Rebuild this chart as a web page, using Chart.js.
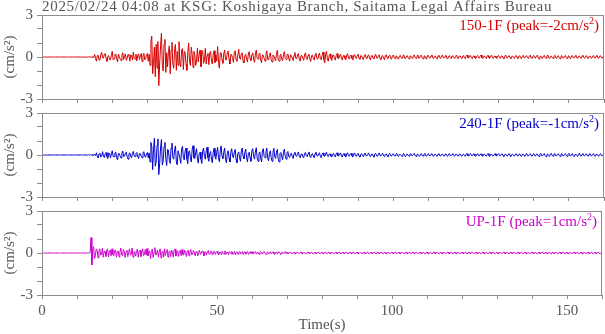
<!DOCTYPE html>
<html>
<head>
<meta charset="utf-8">
<script src="https://cdn.jsdelivr.net/npm/chart.js@4/dist/chart.umd.min.js"></script>
<style>
  html, body { margin: 0; padding: 0; background: #ffffff; }
  #wrap { position: relative; width: 605px; height: 334px; overflow: hidden; }
  #wrap canvas { position: absolute; left: 0; }
</style>
</head>
<body>
<div id="wrap">
  <canvas id="c1" width="605" height="113" style="top:0px"></canvas>
  <canvas id="c2" width="605" height="112" style="top:99px"></canvas>
  <canvas id="c3" width="605" height="137" style="top:197px"></canvas>
</div>
<script>
// ---------------- DATA ----------------
const TITLE = '2025/02/24 04:08 at KSG: Koshigaya Branch, Saitama Legal Affairs Bureau';
const SAMPLE_STEP = 0.25;         // seconds between readings
const X_MIN = 0, X_MAX = 160;
const X_TICK_LABELS = [0, 50, 100, 150];
const Y_TICK_LABELS = [-3, 0, 3];
const CHANNELS = ['150-1F', '240-1F', 'UP-1F'];
const PEAKS = [-2, -1, 1];

// 150-1F acceleration (cm/s^2), one reading every 0.25 s from t = 0 (one row = 10 s)
const ch150 = [
  0,0.01,-0.01,0,0.01,0,-0.01,0.01,0,-0.01,0.01,0,-0.01,0.01,0,-0.01,0,0.01,-0.01,0,0.01,0,-0.01,0.01,0,-0.01,0.01,0,-0.01,0,0.01,-0.01,0,0.01,-0.01,0,0.01,0,-0.01,0.01,
  0,-0.01,0.01,0,-0.01,0.01,0,-0.01,0.01,-0.01,0.01,0,-0.02,0.01,0.02,-0.02,0.01,-0.02,0.03,-0.03,0.18,-0.12,-0.3,0.1,0.12,-0.22,-0.2,0.15,0.33,-0.05,-0.08,0.2,0.26,-0.1,-0.31,0.05,0.1,-0.2,-0.18,0.12,
  0.4,-0.2,-0.12,0.15,0.22,-0.1,-0.35,0.2,0.05,-0.15,-0.26,0.12,0.3,-0.18,0.1,0.22,-0.24,-0.08,0.18,0.1,-0.3,0.15,0.12,-0.22,0.35,-0.1,-0.15,0.2,-0.28,0.12,0.22,-0.18,0.08,0.25,-0.33,0.1,0.27,-0.2,-0.12,0.15,
  0.25,-0.3,0.2,-0.6,1.1,1.5,-1.2,-0.4,0.7,-1.4,0.9,-0.8,1.1,-2.05,-0.5,0.8,1.7,-0.6,-1.0,0.9,1.25,-1.1,0.3,-0.7,0.4,0.8,-1.2,0.5,1.05,-0.5,-0.8,0.6,0.9,-0.95,0.4,-0.6,1.1,-0.45,-0.7,0.5,
  0.6,-0.9,0.4,0.35,-0.5,-0.95,0.3,1.0,-0.3,-0.6,0.7,0.2,-0.75,0.4,0.2,-0.6,-0.3,0.65,-0.35,0.2,0.5,-0.7,0.3,0.45,-0.45,-0.2,0.62,-0.5,0.1,0.25,-0.55,0.3,0.4,-0.3,-0.5,0.2,0.45,-0.4,0.15,-0.3,
  0.75,-0.4,-0.8,0.3,0.3,-0.2,-0.45,0.25,0.5,-0.2,-0.2,0.3,0.42,-0.15,-0.5,0.2,0.15,-0.1,-0.38,0.3,0.45,-0.2,-0.3,0.15,0.55,-0.1,-0.15,0.25,0.3,-0.3,-0.42,0.1,0.2,-0.15,-0.35,0.22,0.38,-0.1,-0.25,0.15,
  0.3,-0.15,-0.38,0.2,0.5,-0.1,-0.15,0.2,0.28,-0.2,-0.42,0.15,0.12,-0.1,-0.3,0.2,0.45,-0.15,-0.22,0.1,0.3,-0.2,-0.36,0.15,0.1,-0.12,-0.28,0.2,0.48,-0.2,-0.3,0.1,0.2,-0.15,-0.26,0.18,0.38,-0.1,-0.18,0.12,
  0.22,-0.1,-0.3,0.15,0.1,-0.08,-0.26,0.12,0.32,-0.1,-0.12,0.15,0.25,-0.15,-0.3,0.1,0.08,-0.1,-0.24,0.15,0.3,-0.1,-0.18,0.12,0.2,-0.15,-0.32,0.1,0.12,-0.1,-0.22,0.15,0.26,-0.1,-0.15,0.12,0.28,-0.12,-0.2,0.1,
  0.36,-0.2,-0.42,0.2,0.4,-0.15,-0.3,0.1,0.22,-0.1,-0.25,0.12,0.15,-0.1,-0.22,0.1,0.24,-0.08,-0.12,0.1,0.2,-0.1,-0.22,0.08,0.1,-0.1,-0.2,0.12,0.24,-0.08,-0.15,0.1,0.12,-0.1,-0.22,0.08,0.18,-0.06,-0.1,0.08,
  0.2,-0.08,-0.16,0.1,0.08,-0.1,-0.2,0.1,0.18,-0.06,-0.1,0.08,0.16,-0.1,-0.2,0.06,0.12,-0.08,-0.14,0.1,0.2,-0.06,-0.08,0.1,0.15,-0.1,-0.18,0.06,0.1,-0.08,-0.2,0.1,0.16,-0.06,-0.1,0.08,0.14,-0.1,-0.16,0.06,
  0.14,-0.06,-0.12,0.08,0.06,-0.1,-0.15,0.06,0.12,-0.05,-0.08,0.1,0.15,-0.08,-0.12,0.05,0.1,-0.06,-0.14,0.08,0.06,-0.05,-0.12,0.1,0.14,-0.06,-0.1,0.05,0.15,-0.08,-0.06,0.1,0.12,-0.06,-0.14,0.05,0.08,-0.06,-0.15,0.1,
  0.12,-0.05,-0.08,0.06,0.15,-0.06,-0.12,0.05,0.06,-0.08,-0.14,0.06,0.12,-0.05,-0.1,0.08,0.14,-0.06,-0.06,0.05,0.12,-0.08,-0.15,0.06,0.1,-0.05,-0.12,0.08,0.06,-0.06,-0.1,0.05,0.14,-0.08,-0.12,0.06,0.08,-0.05,-0.13,0.06,
  0.1,-0.06,-0.12,0.05,0.14,-0.05,-0.06,0.08,0.1,-0.06,-0.12,0.05,0.08,-0.06,-0.13,0.05,0.12,-0.05,-0.08,0.06,0.14,-0.06,-0.1,0.05,0.06,-0.05,-0.12,0.08,0.1,-0.06,-0.09,0.05,0.13,-0.05,-0.1,0.06,0.07,-0.05,-0.11,0.06,
  0.12,-0.05,-0.1,0.06,0.08,-0.06,-0.13,0.05,0.14,-0.05,-0.07,0.06,0.1,-0.06,-0.12,0.05,0.06,-0.05,-0.1,0.06,0.12,-0.05,-0.11,0.06,0.09,-0.06,-0.13,0.05,0.12,-0.05,-0.06,0.06,0.1,-0.05,-0.12,0.06,0.13,-0.06,-0.09,0.05,
  0.1,-0.05,-0.08,0.06,0.13,-0.06,-0.14,0.05,0.07,-0.05,-0.1,0.06,0.12,-0.05,-0.09,0.06,0.14,-0.06,-0.12,0.05,0.06,-0.05,-0.1,0.06,0.12,-0.06,-0.11,0.05,0.09,-0.05,-0.13,0.06,0.1,-0.05,-0.07,0.06,0.12,-0.06,-0.1,0.05,
  0.09,-0.05,-0.12,0.06,0.11,-0.05,-0.07,0.05,0.12,-0.06,-0.1,0.05,0.08,-0.05,-0.11,0.06,0.12,-0.05,-0.09,0.05,0.1,-0.06,-0.12,0.05,0.07,-0.05,-0.1,0.06,0.11,-0.05,-0.08,0.05,0.12,-0.06,-0.1,0.05,0.09,-0.05,-0.08,0.04,
  0
];

// 240-1F acceleration (cm/s^2)
const ch240 = [
  0,0.01,0,-0.01,0.01,0,-0.01,0,0.01,-0.01,0,0.01,-0.01,0,0.01,0,-0.01,0.01,0,-0.01,0,0.01,-0.01,0,0.01,-0.01,0,0.01,0,-0.01,0.01,0,-0.01,0.01,0,-0.01,0,0.01,-0.01,0,
  0,0.01,-0.01,0,0.01,-0.01,0.01,0,-0.01,0.01,-0.01,0.01,-0.02,0.02,-0.01,0.02,-0.02,0.03,-0.03,0.02,0.04,-0.06,0.16,-0.1,-0.22,0.08,0.12,-0.15,-0.08,0.24,-0.1,-0.18,0.1,0.18,-0.12,-0.26,0.15,0.1,-0.2,0.08,
  0.3,-0.1,-0.12,0.15,0.2,-0.2,-0.35,0.1,0.1,-0.08,-0.22,0.15,0.28,-0.1,-0.08,0.12,0.2,-0.15,-0.3,0.1,0.14,-0.1,-0.2,0.12,0.26,-0.08,-0.12,0.1,0.18,-0.12,-0.25,0.1,0.1,-0.08,-0.2,0.15,0.24,-0.1,-0.16,0.1,
  0.18,-0.2,0.15,-0.5,0.9,0.6,-1.05,0.4,1.2,-0.8,-0.5,0.7,1.15,-1.4,-0.6,0.5,1.1,-0.7,-0.45,0.6,0.9,-0.3,-0.75,0.4,0.35,-0.4,-0.6,0.5,0.85,-0.2,-0.3,0.4,0.65,-0.5,-0.7,0.3,0.3,-0.2,-0.6,0.45,
  0.62,-0.2,-0.35,0.3,0.5,-0.3,-0.62,0.2,0.3,-0.2,-0.5,0.4,0.66,-0.2,-0.25,0.2,0.45,-0.3,-0.58,0.1,0.2,-0.3,-0.6,0.3,0.5,-0.1,-0.3,0.3,0.56,-0.2,-0.45,0.1,0.25,-0.3,-0.55,0.2,0.48,-0.1,-0.3,0.2,
  0.55,-0.2,-0.48,0.3,0.65,-0.1,-0.25,0.2,0.5,-0.3,-0.55,0.1,0.3,-0.2,-0.5,0.2,0.45,-0.1,-0.2,0.2,0.4,-0.3,-0.55,0.1,0.22,-0.2,-0.45,0.3,0.5,-0.1,-0.28,0.2,0.42,-0.2,-0.5,0.1,0.2,-0.2,-0.45,0.3,
  0.45,-0.1,-0.3,0.2,0.52,-0.2,-0.45,0.1,0.22,-0.2,-0.5,0.3,0.45,-0.1,-0.2,0.2,0.5,-0.2,-0.42,0.1,0.3,-0.2,-0.45,0.2,0.48,-0.1,-0.25,0.2,0.4,-0.3,-0.5,0.1,0.18,-0.1,-0.35,0.2,0.42,-0.1,-0.3,0.15,
  0.25,-0.1,-0.18,0.08,0.12,-0.1,-0.25,0.1,0.2,-0.05,-0.1,0.1,0.22,-0.1,-0.2,0.05,0.08,-0.1,-0.2,0.1,0.18,-0.05,-0.12,0.1,0.22,-0.1,-0.18,0.05,0.1,-0.08,-0.2,0.1,0.2,-0.05,-0.08,0.1,0.15,-0.1,-0.2,0.05,
  0.15,-0.05,-0.1,0.08,0.2,-0.06,-0.12,0.05,0.08,-0.08,-0.15,0.06,0.12,-0.05,-0.14,0.08,0.16,-0.05,-0.06,0.06,0.15,-0.08,-0.15,0.05,0.1,-0.06,-0.15,0.08,0.16,-0.05,-0.08,0.06,0.12,-0.05,-0.15,0.08,0.15,-0.06,-0.1,0.05,
  0.12,-0.06,-0.15,0.05,0.1,-0.05,-0.12,0.06,0.14,-0.05,-0.06,0.05,0.15,-0.06,-0.12,0.05,0.08,-0.05,-0.15,0.06,0.12,-0.05,-0.1,0.06,0.15,-0.05,-0.06,0.05,0.12,-0.06,-0.12,0.05,0.08,-0.05,-0.12,0.06,0.12,-0.05,-0.08,0.04,
  0.1,-0.04,-0.06,0.05,0.12,-0.05,-0.1,0.04,0.05,-0.04,-0.1,0.05,0.1,-0.05,-0.12,0.04,0.07,-0.04,-0.08,0.05,0.1,-0.04,-0.05,0.05,0.12,-0.05,-0.1,0.04,0.06,-0.04,-0.1,0.05,0.1,-0.05,-0.07,0.04,0.12,-0.05,-0.08,0.04,
  0.1,-0.04,-0.06,0.05,0.09,-0.05,-0.1,0.04,0.05,-0.04,-0.1,0.05,0.1,-0.05,-0.08,0.04,0.06,-0.04,-0.1,0.05,0.08,-0.04,-0.1,0.05,0.1,-0.05,-0.05,0.04,0.1,-0.04,-0.09,0.05,0.06,-0.05,-0.08,0.04,0.08,-0.04,-0.1,0.04,
  0.06,-0.04,-0.1,0.05,0.1,-0.05,-0.07,0.04,0.1,-0.04,-0.05,0.05,0.08,-0.05,-0.09,0.04,0.1,-0.04,-0.06,0.05,0.08,-0.04,-0.1,0.05,0.06,-0.05,-0.08,0.04,0.1,-0.04,-0.1,0.05,0.05,-0.05,-0.08,0.04,0.1,-0.04,-0.07,0.04,
  0.1,-0.04,-0.05,0.05,0.08,-0.05,-0.1,0.04,0.06,-0.04,-0.08,0.05,0.1,-0.05,-0.1,0.04,0.05,-0.04,-0.08,0.05,0.1,-0.04,-0.07,0.05,0.08,-0.05,-0.1,0.04,0.06,-0.04,-0.08,0.05,0.1,-0.05,-0.06,0.04,0.08,-0.04,-0.08,0.04,
  0.1,-0.04,-0.07,0.05,0.08,-0.05,-0.1,0.04,0.12,-0.04,-0.06,0.05,0.1,-0.05,-0.12,0.04,0.07,-0.04,-0.1,0.05,0.12,-0.04,-0.08,0.05,0.1,-0.05,-0.06,0.04,0.08,-0.04,-0.1,0.05,0.1,-0.05,-0.06,0.04,0.1,-0.04,-0.1,0.04,
  0.12,-0.04,-0.08,0.05,0.1,-0.05,-0.12,0.04,0.06,-0.04,-0.1,0.05,0.12,-0.05,-0.08,0.04,0.1,-0.04,-0.06,0.05,0.08,-0.04,-0.1,0.05,0.1,-0.05,-0.06,0.04,0.1,-0.04,-0.1,0.05,0.06,-0.05,-0.08,0.04,0.1,-0.04,-0.06,0.03,
  0
];

// UP-1F acceleration (cm/s^2)
const chUP = [
  0,0.01,0,-0.01,0.01,0,-0.01,0,0.01,-0.01,0,0.01,-0.01,0,0.01,0,-0.01,0.01,0,-0.01,0,0.01,-0.01,0,0.01,-0.01,0,0.01,0,-0.01,0.01,0,-0.01,0.01,0,-0.01,0,0.01,-0.01,0,
  0,0.01,-0.01,0,0.01,-0.01,0,0.01,-0.01,0,0.01,-0.01,0.01,0,-0.01,0.03,1.1,-0.85,0.2,0.45,-0.4,-0.2,0.3,0.2,-0.35,0.1,0.3,-0.15,-0.1,0.35,-0.3,0.1,0.12,-0.25,0.2,0.3,-0.28,0.05,0.22,-0.2,
  0.3,-0.1,-0.2,0.15,0.22,-0.3,0.1,0.15,-0.28,0.05,0.35,-0.12,-0.2,0.25,0.1,-0.32,0.1,0.2,-0.26,0.05,0.3,-0.15,-0.1,0.36,-0.3,0.05,0.12,-0.22,0.1,0.28,-0.3,0.1,0.2,-0.25,0.05,0.3,-0.2,-0.1,0.25,-0.15,
  0.32,-0.2,0.05,0.15,-0.4,0.1,0.28,-0.32,0.05,0.38,-0.15,-0.1,0.22,-0.3,0.1,0.3,-0.35,0.05,0.12,-0.28,0.3,-0.18,0.1,0.25,-0.3,0.05,0.15,-0.26,0.2,0.1,-0.3,0.2,0.28,-0.22,0.05,0.15,-0.25,0.1,0.2,-0.2,
  0.25,-0.1,-0.15,0.2,0.05,-0.25,0.1,0.2,-0.2,0.05,0.25,-0.12,-0.1,0.18,0.05,-0.2,0.1,0.12,-0.2,0.05,0.2,-0.1,-0.05,0.15,0.1,-0.2,0.05,0.08,-0.15,0.1,0.18,-0.1,-0.05,0.15,0.05,-0.15,0.1,0.12,-0.1,0.05,
  0.12,-0.05,-0.15,0.06,0.05,-0.12,0.12,-0.04,-0.08,0.15,-0.1,0.04,0.06,-0.12,0.1,0.05,-0.06,0.12,-0.1,-0.05,0.1,-0.12,0.05,0.08,-0.1,0.04,0.12,-0.06,-0.04,0.1,-0.1,0.05,0.08,-0.08,0.04,0.1,-0.1,0.03,0.1,-0.06,
  0.1,-0.04,-0.06,0.05,0.1,-0.08,0.03,0.05,-0.1,0.04,0.1,-0.05,-0.07,0.06,0.1,-0.04,-0.1,0.05,0.06,-0.08,0.04,0.1,-0.06,0.03,0.08,-0.06,-0.1,0.04,0.05,-0.08,0.06,0.08,-0.04,-0.1,0.05,0.06,-0.07,0.04,0.1,-0.05,
  0.06,-0.03,-0.05,0.04,0.07,-0.04,-0.06,0.03,0.05,-0.05,-0.07,0.04,0.06,-0.03,-0.04,0.05,0.07,-0.04,-0.06,0.03,0.04,-0.05,-0.06,0.04,0.07,-0.03,-0.05,0.04,0.06,-0.04,-0.07,0.03,0.05,-0.04,-0.06,0.04,0.06,-0.03,-0.05,0.04,
  0.05,-0.04,-0.06,0.03,0.07,-0.04,-0.05,0.04,0.06,-0.03,-0.07,0.04,0.05,-0.04,-0.06,0.03,0.06,-0.05,-0.04,0.04,0.07,-0.03,-0.06,0.04,0.05,-0.04,-0.05,0.03,0.06,-0.04,-0.07,0.04,0.05,-0.03,-0.06,0.04,0.07,-0.04,-0.05,0.03,
  0.06,-0.04,-0.05,0.03,0.05,-0.03,-0.07,0.04,0.06,-0.04,-0.05,0.03,0.07,-0.04,-0.06,0.04,0.05,-0.03,-0.06,0.04,0.06,-0.04,-0.07,0.03,0.05,-0.04,-0.05,0.04,0.07,-0.03,-0.06,0.04,0.05,-0.04,-0.07,0.03,0.06,-0.04,-0.05,0.04,
  0.05,-0.03,-0.06,0.04,0.07,-0.04,-0.05,0.03,0.06,-0.04,-0.06,0.04,0.05,-0.03,-0.07,0.04,0.06,-0.04,-0.05,0.03,0.07,-0.04,-0.06,0.04,0.05,-0.03,-0.06,0.04,0.06,-0.04,-0.05,0.03,0.07,-0.04,-0.06,0.04,0.05,-0.03,-0.07,0.04,
  0.06,-0.04,-0.07,0.03,0.05,-0.04,-0.06,0.04,0.07,-0.03,-0.05,0.04,0.06,-0.04,-0.06,0.03,0.05,-0.04,-0.07,0.04,0.06,-0.03,-0.05,0.04,0.07,-0.04,-0.06,0.03,0.05,-0.04,-0.06,0.04,0.06,-0.03,-0.07,0.04,0.05,-0.04,-0.06,0.03,
  0.07,-0.04,-0.05,0.03,0.06,-0.04,-0.07,0.04,0.05,-0.03,-0.06,0.04,0.06,-0.04,-0.05,0.03,0.07,-0.04,-0.06,0.04,0.05,-0.03,-0.06,0.04,0.06,-0.04,-0.07,0.03,0.05,-0.04,-0.05,0.04,0.07,-0.03,-0.06,0.04,0.06,-0.04,-0.05,0.03,
  0.05,-0.04,-0.06,0.04,0.06,-0.03,-0.05,0.04,0.07,-0.04,-0.06,0.03,0.05,-0.04,-0.07,0.04,0.06,-0.03,-0.05,0.04,0.06,-0.04,-0.06,0.03,0.07,-0.04,-0.05,0.04,0.05,-0.03,-0.06,0.04,0.06,-0.04,-0.07,0.03,0.05,-0.04,-0.06,0.04,
  0.06,-0.03,-0.06,0.04,0.05,-0.04,-0.07,0.03,0.06,-0.04,-0.05,0.04,0.07,-0.03,-0.06,0.04,0.05,-0.04,-0.06,0.03,0.06,-0.04,-0.07,0.04,0.05,-0.03,-0.05,0.04,0.06,-0.04,-0.06,0.03,0.07,-0.04,-0.05,0.04,0.06,-0.03,-0.06,0.04,
  0.05,-0.04,-0.06,0.03,0.06,-0.04,-0.05,0.04,0.07,-0.03,-0.06,0.04,0.05,-0.04,-0.06,0.03,0.06,-0.04,-0.07,0.04,0.05,-0.03,-0.06,0.04,0.06,-0.04,-0.05,0.03,0.07,-0.04,-0.06,0.04,0.05,-0.03,-0.06,0.04,0.06,-0.04,-0.05,0.03,
  0
];

// ---------------- STYLE ----------------
const FONT = '"Liberation Serif", "Times New Roman", serif';
const TEXT_COLOR = '#555555';
const AXIS_COLOR = '#8c8c8c';
const COLORS = ['#d40000', '#0000cc', '#cc00cc'];

Chart.defaults.font.family = FONT;
Chart.defaults.font.size = 15;
Chart.defaults.color = TEXT_COLOR;

const framePlugin = {
  id: 'frame',
  afterDraw(chart, args, opts) {
    const { ctx, chartArea: a } = chart;
    ctx.save();
    ctx.strokeStyle = AXIS_COLOR;
    ctx.lineWidth = 1;
    ctx.strokeRect(a.left + 0.5, a.top + 0.5, a.right - a.left - 1, a.bottom - a.top);
    // figure title (letter-spaced) on the first panel
    if (opts.title) {
      ctx.fillStyle = TEXT_COLOR;
      ctx.textBaseline = 'alphabetic';
      ctx.textAlign = 'left';
      ctx.font = '15px ' + FONT;
      if ('letterSpacing' in ctx) ctx.letterSpacing = '0.7px';
      ctx.fillText(opts.title, a.left, 11);
      if ('letterSpacing' in ctx) ctx.letterSpacing = '0px';
    }
    // channel label with superscript unit
    const main = opts.name + ' (peak=' + opts.peak + 'cm/s';
    const sup = '2', tail = ')';
    ctx.fillStyle = opts.color;
    ctx.textBaseline = 'alphabetic';
    ctx.textAlign = 'left';
    ctx.font = '15px ' + FONT;
    const wMain = ctx.measureText(main).width;
    const wTail = ctx.measureText(tail).width;
    ctx.font = '10px ' + FONT;
    const wSup = ctx.measureText(sup).width;
    const base = a.top + 15;
    let x = a.right - 5 - (wMain + wSup + wTail);
    ctx.font = '15px ' + FONT;
    ctx.fillText(main, x, base);
    x += wMain;
    ctx.font = '10px ' + FONT;
    ctx.fillText(sup, x, base - 6);
    x += wSup;
    ctx.font = '15px ' + FONT;
    ctx.fillText(tail, x, base);
    ctx.restore();
  }
};

function makePanel(id, values, idx, opts) {
  const points = values.map((v, i) => ({ x: i * SAMPLE_STEP, y: v }));
  return new Chart(document.getElementById(id), {
    type: 'line',
    data: {
      datasets: [{
        data: points,
        borderColor: COLORS[idx],
        borderWidth: 1,
        pointRadius: 0,
        tension: 0,
        fill: false
      }]
    },
    options: {
      responsive: false,
      animation: false,
      devicePixelRatio: 1,
      events: [],
      layout: { padding: { top: opts.padTop, right: 1, left: 0, bottom: 0 } },
      plugins: {
        legend: { display: false },
        tooltip: { enabled: false },
        title: { display: false },
        frame: { name: CHANNELS[idx], peak: PEAKS[idx], color: COLORS[idx], title: opts.title ? TITLE : null }
      },
      scales: {
        x: {
          type: 'linear',
          min: X_MIN, max: X_MAX,
          afterFit(s) { s.height = opts.xHeight; },
          border: { display: false },
          grid: { drawOnChartArea: false, drawTicks: true, tickLength: 4, color: AXIS_COLOR },
          ticks: {
            display: opts.xLabels,
            stepSize: 10,
            autoSkip: false,
            maxRotation: 0,
            padding: 3,
            color: TEXT_COLOR,
            callback: v => X_TICK_LABELS.includes(v) ? String(v) : ''
          },
          title: opts.xLabels ? {
            display: true,
            text: 'Time(s)',
            color: TEXT_COLOR,
            font: { size: 15 },
            padding: { top: 0, bottom: 0 }
          } : { display: false }
        },
        y: {
          min: -3, max: 3,
          afterFit(s) { s.width = 42; },
          border: { display: false },
          grid: { drawOnChartArea: false, drawTicks: true, tickLength: 5, color: AXIS_COLOR },
          ticks: {
            stepSize: 1,
            autoSkip: false,
            padding: 4,
            color: TEXT_COLOR,
            callback: v => Y_TICK_LABELS.includes(v) ? String(v) : ''
          },
          title: {
            display: true,
            text: '(cm/s\u00B2)',
            color: TEXT_COLOR,
            font: { size: 15 },
            padding: { top: 1, bottom: 0 }
          }
        }
      }
    },
    plugins: [framePlugin]
  });
}

makePanel('c1', ch150, 0, { padTop: 15, xHeight: 14, xLabels: false, title: true });
makePanel('c2', ch240, 1, { padTop: 14, xHeight: 14, xLabels: false, title: false });
makePanel('c3', chUP, 2, { padTop: 14, xHeight: 39, xLabels: true, title: false });
</script>
</body>
</html>
